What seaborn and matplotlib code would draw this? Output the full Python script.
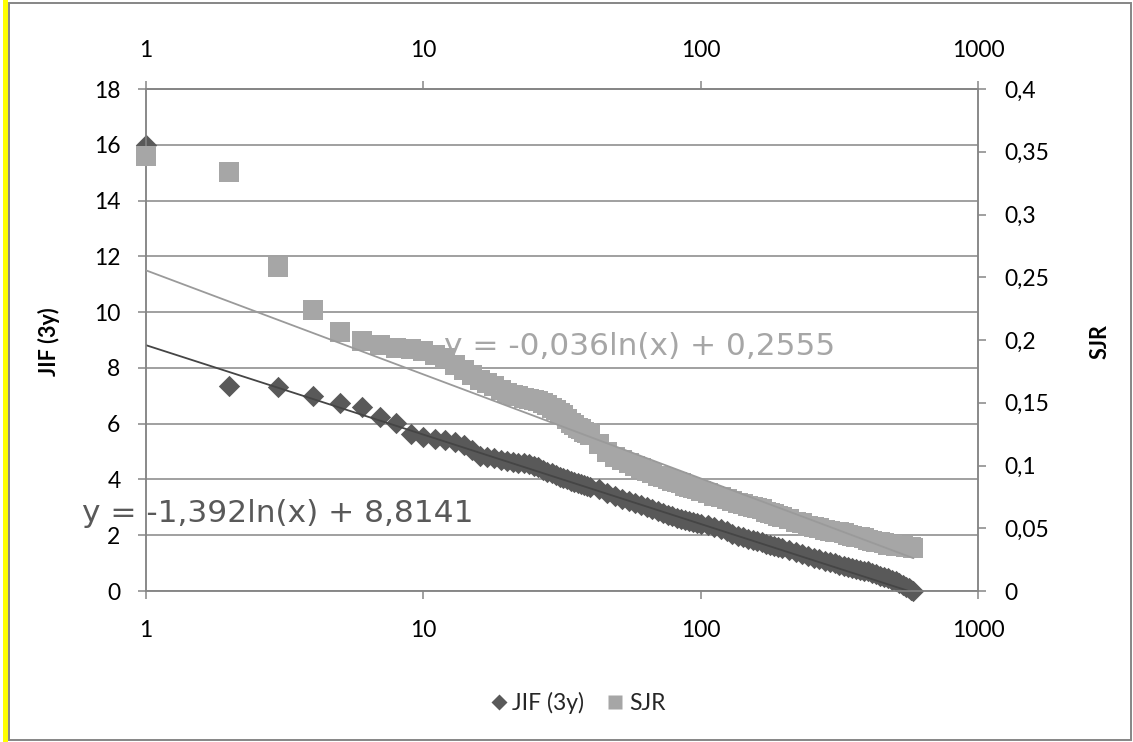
import numpy as np
import pandas as pd
import matplotlib
matplotlib.use("Agg")
import matplotlib.pyplot as plt
import seaborn as sns
from matplotlib.ticker import NullLocator
from matplotlib.lines import Line2D
from matplotlib.patches import Rectangle

# ---------------- data ----------------
jif_rank = [1, 2, 3, 4, 5, 6, 7, 8, 9, 10, 11, 12, 13, 14, 15, 16, 17, 18, 19, 20,
            21, 22, 23, 24, 25, 26, 27, 28, 29, 30, 31, 32, 33, 34, 35, 36, 37, 38,
            39, 40, 43, 46, 49, 52, 55, 58, 61, 64, 67, 70, 73, 76, 79, 82, 85, 88,
            91, 94, 97, 100, 106, 112, 118, 124, 130, 136, 142, 148, 154, 160, 166,
            172, 178, 184, 190, 196, 208, 220, 232, 244, 256, 268, 280, 292, 304,
            316, 328, 340, 352, 364, 376, 388, 400, 415, 430, 445, 460, 475, 490,
            505, 520, 535, 550, 565, 575, 583]
jif_value = [16.0, 7.35, 7.33, 6.98, 6.74, 6.58, 6.25, 6.02, 5.62, 5.52, 5.45, 5.42,
             5.33, 5.22, 5.05, 4.85, 4.80, 4.78, 4.70, 4.65, 4.62, 4.60, 4.58, 4.55,
             4.50, 4.45, 4.35, 4.28, 4.22, 4.15, 4.10, 4.05, 4.00, 3.95, 3.92, 3.88,
             3.85, 3.80, 3.76, 3.73, 3.64, 3.52, 3.40, 3.30, 3.22, 3.14, 3.07, 3.00,
             2.93, 2.86, 2.80, 2.74, 2.68, 2.63, 2.58, 2.54, 2.50, 2.47, 2.44, 2.41,
             2.35, 2.30, 2.24, 2.16, 2.06, 1.98, 1.93, 1.88, 1.83, 1.78, 1.74, 1.70,
             1.66, 1.62, 1.59, 1.55, 1.48, 1.41, 1.34, 1.27, 1.20, 1.13, 1.08, 1.03,
             0.99, 0.95, 0.91, 0.87, 0.84, 0.80, 0.77, 0.73, 0.70, 0.65, 0.60, 0.55,
             0.50, 0.45, 0.40, 0.35, 0.29, 0.22, 0.16, 0.09, 0.04, 0.0]

sjr_rank = [1, 2, 3, 4, 5, 6, 7, 8, 9, 10, 11, 12, 13, 14, 15, 16, 17, 18, 19, 20,
            21, 22, 23, 24, 25, 26, 27, 28, 29, 30, 31, 32, 33, 34, 35, 36, 37, 38,
            39, 40, 43, 46, 49, 52, 55, 58, 61, 64, 67, 70, 73, 76, 79, 82, 85, 88,
            91, 94, 97, 100, 106, 112, 118, 124, 130, 136, 142, 148, 154, 160, 166,
            172, 178, 184, 190, 196, 208, 220, 232, 244, 256, 268, 280, 292, 304,
            316, 328, 340, 352, 364, 376, 388, 400, 415, 430, 445, 460, 475, 490,
            505, 520, 535, 550, 565, 575, 585]
sjr_value = [0.347, 0.334, 0.258, 0.224, 0.206, 0.199, 0.196, 0.194, 0.193, 0.191,
             0.188, 0.186, 0.180, 0.176, 0.172, 0.168, 0.166, 0.163, 0.160, 0.158,
             0.156, 0.155, 0.154, 0.153, 0.152, 0.151, 0.150, 0.148, 0.146, 0.144,
             0.142, 0.140, 0.137, 0.134, 0.132, 0.130, 0.129, 0.127, 0.126, 0.124,
             0.117, 0.111, 0.107, 0.104, 0.102, 0.100, 0.098, 0.096, 0.094, 0.092,
             0.091, 0.089, 0.088, 0.087, 0.086, 0.084, 0.083, 0.082, 0.081, 0.080,
             0.078, 0.076, 0.075, 0.073, 0.072, 0.070, 0.069, 0.068, 0.067, 0.066,
             0.065, 0.063, 0.062, 0.061, 0.060, 0.059, 0.057, 0.055, 0.054, 0.052,
             0.051, 0.050, 0.049, 0.048, 0.047, 0.047, 0.046, 0.045, 0.044, 0.043,
             0.043, 0.042, 0.041, 0.040, 0.039, 0.039, 0.038, 0.037, 0.037, 0.036,
             0.036, 0.0355, 0.035, 0.035, 0.0348, 0.0345]

x_ticks = [1, 10, 100, 1000]
x_tick_labels = ["1", "10", "100", "1000"]
jif_ticks = [0, 2, 4, 6, 8, 10, 12, 14, 16, 18]
sjr_ticks = [0, 0.05, 0.1, 0.15, 0.2, 0.25, 0.3, 0.35, 0.4]
sjr_tick_labels = ["0", "0,05", "0,1", "0,15", "0,2", "0,25", "0,3", "0,35", "0,4"]

jif_slope, jif_intercept = -1.392, 8.8141
sjr_slope, sjr_intercept = -0.036, 0.2555
jif_eq = "y = -1,392ln(x) + 8,8141"
sjr_eq = "y = -0,036ln(x) + 0,2555"

# ---------------- style ----------------
sns.set_theme(style="white")
plt.rcParams['font.family'] = ['Lato', 'DejaVu Sans']

W, H = 1133, 742
GRID = '#868686'
JIF_C = '#595959'
SJR_C = '#A6A6A6'
TXT = '#000000'

fig = plt.figure(figsize=(W / 100, H / 100), dpi=100)
ax = fig.add_axes([146 / W, 1 - 591 / H, 832 / W, 502 / H])
ax2 = ax.twinx()

df_jif = pd.DataFrame({'rank': jif_rank, 'value': jif_value})
df_sjr = pd.DataFrame({'rank': sjr_rank, 'value': sjr_value})

ax.set_xscale('log')
sns.scatterplot(data=df_jif, x='rank', y='value', marker='D', s=118, color=JIF_C,
                linewidth=0, ax=ax, zorder=3, clip_on=False, legend=False)
xs = np.geomspace(1, jif_rank[-1], 300)
sns.lineplot(x=xs, y=jif_slope * np.log(xs) + jif_intercept, ax=ax, color='#454545',
             lw=1.3, zorder=4, estimator=None, sort=False)

sns.scatterplot(data=df_sjr, x='rank', y='value', marker='s', s=210, color=SJR_C,
                linewidth=0, ax=ax2, zorder=3, clip_on=False, legend=False)
xs2 = np.geomspace(1, sjr_rank[-1], 300)
sns.lineplot(x=xs2, y=sjr_slope * np.log(xs2) + sjr_intercept, ax=ax2, color='#9A9A9A',
             lw=1.3, zorder=4, estimator=None, sort=False)

# axes ranges
ax.set_xlim(1, 1000)
ax.set_ylim(0, 18)
ax2.set_ylim(0, 0.4)

# x axis (bottom)
ax.set_xticks(x_ticks)
ax.set_xticklabels(x_tick_labels)
ax.xaxis.set_minor_locator(NullLocator())
ax.tick_params(axis='x', which='major', bottom=True, top=False, direction='out',
               length=5.8, width=1.1, color=GRID, pad=15, labelsize=16.5, labelcolor=TXT)
# x axis (top)
secx = ax.secondary_xaxis('top')
secx.set_xticks(x_ticks)
secx.set_xticklabels(x_tick_labels)
secx.xaxis.set_minor_locator(NullLocator())
secx.tick_params(axis='x', which='major', direction='out', length=5.8, width=1.1,
                 color=GRID, pad=14, labelsize=16.5, labelcolor=TXT)
secx.spines['top'].set_color(GRID)
secx.spines['top'].set_linewidth(1.1)

# left y
ax.set_yticks(jif_ticks)
ax.set_yticklabels([str(t) for t in jif_ticks])
ax.tick_params(axis='y', left=True, direction='out', length=5.8, width=1.1, color=GRID,
               pad=12.5, labelsize=16.5, labelcolor=TXT)
ax.yaxis.grid(True, color=GRID, lw=1.1)
ax.xaxis.grid(False)
ax.set_axisbelow(True)

# right y
ax2.set_yticks(sjr_ticks)
ax2.set_yticklabels(sjr_tick_labels)
ax2.tick_params(axis='y', right=True, direction='out', length=5.8, width=1.1, color=GRID,
                pad=13.5, labelsize=16.5, labelcolor=TXT)
ax2.grid(False)

for a in (ax, ax2):
    for sp in a.spines.values():
        sp.set_color(GRID)
        sp.set_linewidth(1.1)

ax.set_xlabel('')
ax2.set_xlabel('')
ax.set_ylabel('JIF (3y)', fontsize=15.5, fontweight='bold', color=TXT)
ax.yaxis.set_label_coords((60 - 146) / 832, (591 - 342) / 502)
ax2.set_ylabel('SJR', fontsize=15.5, fontweight='bold', color=TXT, rotation=90)
ax2.yaxis.set_label_coords((1090 - 146) / 832, (591 - 342) / 502)

# trendline equations
fig.text(82 / W, 1 - 522 / H, jif_eq, fontsize=22.5, color=JIF_C,
         family=['DejaVu Sans'], va='baseline', ha='left', zorder=10)
fig.text(444 / W, 1 - 355 / H, sjr_eq, fontsize=22.5, color=SJR_C,
         family=['DejaVu Sans'], va='baseline', ha='left', zorder=10)

# legend
handles = [Line2D([], [], ls='none', marker='D', ms=8, color=JIF_C, mec='none'),
           Line2D([], [], ls='none', marker='s', ms=10, color=SJR_C, mec='none')]
fig.legend(handles, ['JIF (3y)', 'SJR'], loc='center', bbox_to_anchor=(578 / W, 1 - 703 / H),
           ncol=2, frameon=False, fontsize=16.5, handlelength=0.7, handletextpad=0.25,
           columnspacing=1.0, borderpad=0)

# chart border and yellow bar
fig.patches.append(Rectangle((8.5 / W, 1 - 740 / H), (1131 - 8.5) / W, 737 / H,
                             transform=fig.transFigure, fill=False, ec=GRID, lw=1.4))
fig.patches.append(Rectangle((3 / W, 0), 4.5 / W, 1, transform=fig.transFigure,
                             fc='#FFFF00', ec='none'))

fig.savefig('out.png', dpi=100)
